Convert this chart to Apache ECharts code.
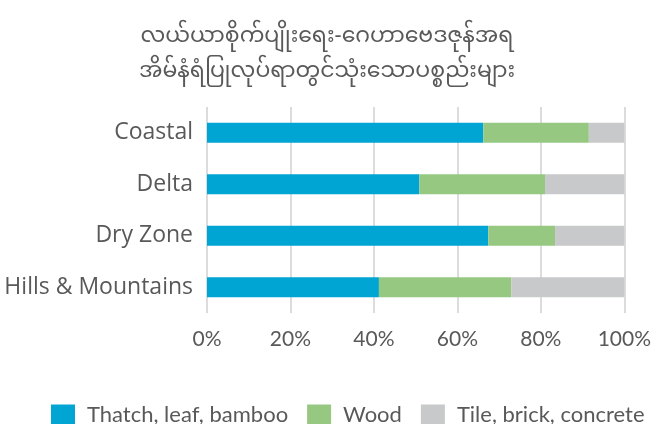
<!DOCTYPE html>
<html>
<head>
<meta charset="UTF-8">
<title>Roof materials by region</title>
<script src="https://cdn.jsdelivr.net/npm/echarts@6/dist/echarts.min.js"></script>
<style>
  html, body { margin: 0; padding: 0; background: #fff; }
  #main { width: 654px; height: 424px; }
</style>
</head>
<body>
<div id="main"></div>
<script type="text/javascript">
// data (percent of households)
var regions = ['Coastal', 'Delta', 'Dry Zone', 'Hills & Mountains'];
var seriesNames = ['Thatch, leaf, bamboo', 'Wood', 'Tile, brick, concrete'];
var thatch = [66.2, 50.9, 67.4, 41.2];
var wood = [25.3, 30.1, 16.0, 31.7];
var tile = [8.5, 19.0, 16.6, 27.1];
var colors = ['#01a5d3', '#96c882', '#c8c9ca'];
var titleText = 'လယ်ယာစိုက်ပျိုးရေး-ဂေဟာဗေဒဇုန်အရ\nအိမ်နံရံပြုလုပ်ရာတွင်သုံးသောပစ္စည်းများ';

var grey = '#595959';
var myChart = echarts.init(document.getElementById('main'));

function makeSeries(name, data, color) {
    return {
        name: name,
        type: 'bar',
        stack: 'total',
        barWidth: 20,
        data: data,
        itemStyle: { color: color },
        emphasis: { disabled: true }
    };
}

var option = {
    animation: false,
    title: {
        text: titleText,
        left: 'center',
        top: 17,
        textStyle: {
            fontFamily: "'Noto Sans Myanmar', 'Noto Sans', sans-serif",
            fontSize: 22,
            lineHeight: 35,
            fontWeight: 'normal',
            color: grey
        }
    },
    legend: {
        data: seriesNames,
        left: 46,
        top: 399,
        icon: 'rect',
        itemWidth: 24,
        itemHeight: 21,
        itemGap: 19,
        textStyle: { fontFamily: 'Lato', fontSize: 22, color: grey, padding: [0, 0, 0, 7] }
    },
    grid: { left: 207, right: 29, top: 107, bottom: 111, containLabel: false },
    xAxis: {
        type: 'value',
        min: 0,
        max: 100,
        interval: 20,
        axisLine: { show: false },
        axisTick: { show: false },
        axisLabel: {
            formatter: '{value}%',
            fontFamily: 'Lato',
            fontSize: 21,
            color: grey,
            margin: 16
        },
        splitLine: { lineStyle: { color: '#dcdcdc', width: 2 } }
    },
    yAxis: {
        type: 'category',
        inverse: true,
        data: regions,
        axisLine: { show: false },
        axisTick: { show: false },
        axisLabel: {
            fontFamily: "'Open Sans', sans-serif",
            fontSize: 23,
            color: grey,
            margin: 14
        }
    },
    series: [
        makeSeries(seriesNames[0], thatch, colors[0]),
        makeSeries(seriesNames[1], wood, colors[1]),
        makeSeries(seriesNames[2], tile, colors[2])
    ]
};

myChart.setOption(option);
</script>
</body>
</html>
